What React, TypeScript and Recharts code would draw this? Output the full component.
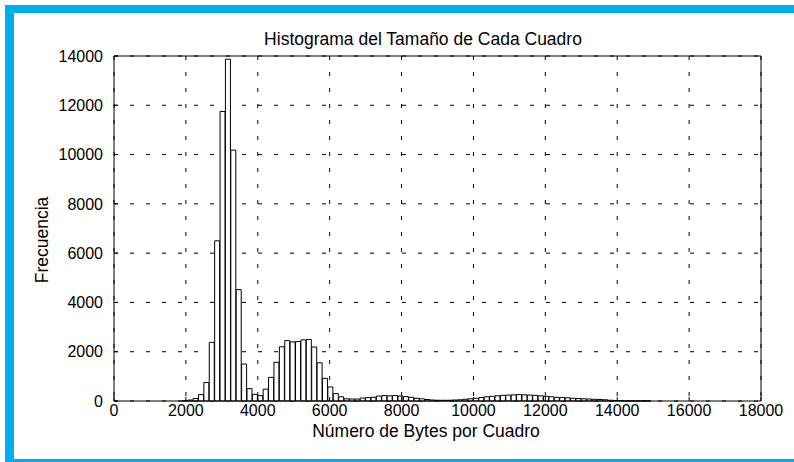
import { BarChart, Bar, XAxis, YAxis, CartesianGrid } from "recharts";

// bin centres (bytes), bins are 150 wide
const binCenters = [
  1975, 2125, 2275, 2425, 2575, 2725, 2875, 3025, 3175, 3325,
  3475, 3625, 3775, 3925, 4075, 4225, 4375, 4525, 4675, 4825,
  4975, 5125, 5275, 5425, 5575, 5725, 5875, 6025, 6175, 6325,
  6475, 6625, 6775, 6925, 7075, 7225, 7375, 7525, 7675, 7825,
  7975, 8125, 8275, 8425, 8575, 8725, 8875, 9025, 9175, 9325,
  9475, 9625, 9775, 9925, 10075, 10225, 10375, 10525, 10675, 10825,
  10975, 11125, 11275, 11425, 11575, 11725, 11875, 12025, 12175, 12325,
  12475, 12625, 12775, 12925, 13075, 13225, 13375, 13525, 13675, 13825,
  13975, 14125, 14275, 14425, 14575, 14725, 14875,
];

const counts = [
  10, 40, 100, 260, 750, 2380, 6500, 11750, 13870, 10180,
  4520, 1500, 500, 270, 220, 480, 960, 1570, 2200, 2450,
  2400, 2410, 2480, 2500, 2190, 1550, 920, 570, 300, 170,
  90, 80, 80, 120, 140, 150, 200, 220, 210, 220,
  200, 180, 150, 110, 90, 60, 40, 30, 30, 30,
  40, 50, 70, 90, 110, 140, 170, 190, 210, 230,
  240, 250, 260, 250, 240, 230, 210, 190, 170, 150,
  140, 130, 110, 100, 90, 80, 70, 60, 50, 30,
  20, 15, 10, 8, 6, 5, 4,
];

const xTicks = [0, 2000, 4000, 6000, 8000, 10000, 12000, 14000, 16000, 18000];
const yTicks = [0, 2000, 4000, 6000, 8000, 10000, 12000, 14000];

const data = binCenters.map((c, i) => ({ bytes: c, freq: counts[i] }));

const FONT = "'Liberation Sans', Arial, Helvetica, sans-serif";
const BLUE = "#00AEEF";
const tickStyle = { fill: "#000", fontSize: 16, fontFamily: FONT };

export default function App() {
  return (
    <div
      style={{
        position: "absolute",
        left: 0,
        top: 0,
        width: 794,
        height: 462,
        background: "#fff",
        overflow: "hidden",
      }}
    >
      <BarChart
        width={794}
        height={462}
        data={data}
        margin={{ top: 55, right: 32, bottom: 31, left: 54 }}
        barCategoryGap="0%"
        barGap={0}
      >
        <CartesianGrid
          stroke="#000"
          strokeDasharray="4 12"
          verticalValues={xTicks}
          horizontalValues={yTicks}
        />
        <XAxis
          dataKey="bytes"
          type="number"
          domain={[0, 18000]}
          ticks={xTicks}
          interval={0}
          height={30}
          tickSize={-4}
          tickMargin={8}
          axisLine={{ stroke: "#000" }}
          tickLine={{ stroke: "#000" }}
          tick={tickStyle}
        />
        <XAxis
          xAxisId="top"
          orientation="top"
          dataKey="bytes"
          type="number"
          domain={[0, 18000]}
          ticks={xTicks}
          interval={0}
          height={1}
          tickSize={-4}
          axisLine={{ stroke: "#000" }}
          tickLine={{ stroke: "#000" }}
          tick={false}
        />
        <YAxis
          type="number"
          domain={[0, 14000]}
          ticks={yTicks}
          interval={0}
          width={60}
          tickSize={-4}
          tickMargin={15}
          axisLine={{ stroke: "#000" }}
          tickLine={{ stroke: "#000" }}
          tick={tickStyle}
        />
        <YAxis
          yAxisId="right"
          orientation="right"
          type="number"
          domain={[0, 14000]}
          ticks={yTicks}
          interval={0}
          width={1}
          tickSize={-4}
          axisLine={{ stroke: "#000" }}
          tickLine={{ stroke: "#000" }}
          tick={false}
        />
        <Bar
          dataKey="freq"
          fill="#fff"
          stroke="#000"
          strokeWidth={1}
          isAnimationActive={false}
        />
      </BarChart>

      <svg
        width={794}
        height={462}
        style={{ position: "absolute", left: 0, top: 0, pointerEvents: "none" }}
      >
        <text x={423} y={45} textAnchor="middle" fontSize={17.5} fontFamily={FONT} fill="#000">
          Histograma del Tamaño de Cada Cuadro
        </text>
        <text x={426} y={437} textAnchor="middle" fontSize={17.5} fontFamily={FONT} fill="#000">
          Número de Bytes por Cuadro
        </text>
        <text
          x={48}
          y={240}
          textAnchor="middle"
          fontSize={17.5}
          fontFamily={FONT}
          fill="#000"
          transform="rotate(-90 48 240)"
        >
          Frecuencia
        </text>
      </svg>

      <div style={{ position: "absolute", left: 5, top: 5, width: 789, height: 8, background: BLUE }} />
      <div style={{ position: "absolute", left: 5, top: 5, width: 9, height: 457, background: BLUE }} />
      <div style={{ position: "absolute", left: 5, top: 459, width: 789, height: 3, background: BLUE }} />
    </div>
  );
}
